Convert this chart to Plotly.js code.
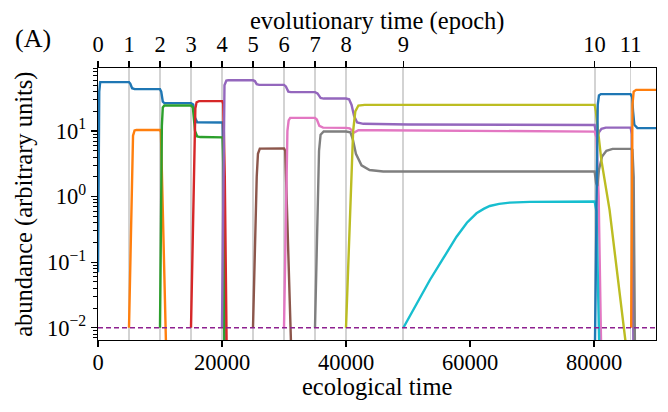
<!DOCTYPE html>
<html>
<head>
<meta charset="utf-8">
<script src="https://cdn.plot.ly/plotly-3.0.1.min.js"></script>
<style>html,body{margin:0;padding:0;background:#fff;}#chart{width:668px;height:412px;}</style>
</head>
<body>
<div id="chart"></div>
<script>
// ---- data ----
const epochTimes = [0, 5000, 10000, 15000, 20000, 25000, 30000, 35000, 40000, 49250, 80100, 85900];
const epochLabels = ['0','1','2','3','4','5','6','7','8','9','10','11'];
const threshold = 0.01;
const yTickVals = [0.01, 0.1, 1, 10];
const yTickText = ['10<sup>\u22122</sup>', '10<sup>\u22121</sup>', '10<sup>0</sup>', '10<sup>1</sup>'];
const xTickVals = [0, 20000, 40000, 60000, 80000];

const sp0_x = [0, 100, 200, 350, 5000, 5200, 5500, 5900, 10000, 10200, 10450, 10700, 15000, 15350, 15650, 16000, 20100, 20250, 20400];
const sp0_y = [0.07, 3, 40, 55.8, 55.8, 53, 45, 43.6, 43.6, 40, 28, 26.7, 26.7, 25.5, 16, 13.6, 13.5, 3, 0.005];
const sp1_x = [5000, 5250, 5500, 5650, 5900, 6200, 10000, 10150, 10980];
const sp1_y = [0.01, 0.15, 3, 8.5, 10.2, 10.4, 10.4, 9.6, 0.005];
const sp2_x = [10000, 10150, 10300, 10450, 10700, 15000, 15300, 15650, 16000, 16500, 20100, 20250, 20380];
const sp2_y = [0.01, 0.3, 12, 23, 24.5, 24.5, 23, 10, 8.3, 8.1, 8.0, 2, 0.005];
const sp3_x = [15000, 15300, 15550, 15700, 15900, 16300, 20050, 20200, 20450, 20750];
const sp3_y = [0.01, 0.2, 5, 22, 27.5, 28.6, 28.6, 26, 2, 0.005];
const sp4_x = [20000, 20150, 20250, 20400, 20700, 21000, 25000, 25300, 25600, 26000, 30000, 30300, 30700, 31100, 35000, 35400, 35900, 36400, 40000, 40500, 40900, 41300, 41800, 42800, 50000, 80100, 80300, 80550, 80800, 81200, 81900, 85900, 86100, 86350];
const sp4_y = [0.01, 0.5, 10, 50, 59, 59.5, 59.5, 58, 52, 50.7, 50.7, 48, 40, 39.3, 39.3, 37.5, 32, 31.3, 31.3, 30.5, 25, 17, 13.5, 12.9, 12.6, 12.4, 9.5, 8.3, 9.6, 10.8, 11.3, 11.3, 9, 0.005];
const sp5_x = [25000, 25300, 25600, 25800, 26100, 30000, 30200, 31150];
const sp5_y = [0.01, 0.15, 2, 4.5, 5.4, 5.45, 5.0, 0.005];
const sp6_x = [30000, 30300, 30550, 30750, 31000, 35000, 35300, 35700, 36300, 40000, 40600, 41300, 42000, 45000, 80100, 80400, 80750, 81150];
const sp6_y = [0.01, 0.5, 10, 14.5, 15.9, 15.9, 15, 12, 11.3, 11.2, 11, 9.5, 10.3, 10.3, 9.8, 8, 1, 0.005];
const sp7_x = [35000, 35300, 35650, 35900, 36400, 40000, 40700, 41100, 41600, 42500, 43800, 46000, 80100, 80350, 80550, 80800, 81300, 82000, 83000, 85900, 86200, 86400, 86600];
const sp7_y = [0.01, 0.2, 5, 8.8, 9.85, 9.85, 9.6, 7.5, 4.5, 3.0, 2.55, 2.42, 2.41, 1.6, 1.45, 2.56, 4.1, 5.0, 5.35, 5.35, 5.2, 2, 0.005];
const sp8_x = [40000, 40750, 41150, 41500, 42000, 43000, 80100, 80300, 81180, 82510, 83850, 84930, 85200];
const sp8_y = [0.01, 0.85, 10, 20, 24.5, 25.1, 25.1, 20, 3.63, 0.627, 0.06, 0.0104, 0.005];
const sp9_x = [49250, 51400, 53530, 55700, 57830, 59500, 61050, 62200, 63190, 64700, 66410, 69630, 80100, 80400, 80650, 80850];
const sp9_y = [0.01, 0.023, 0.0535, 0.115, 0.245, 0.40, 0.557, 0.65, 0.72, 0.775, 0.81, 0.83, 0.84, 0.6, 0.05, 0.005];
const sp10_x = [80150, 80400, 80600, 80800, 81100, 85900, 86150, 86300, 86500, 87000, 90000];
const sp10_y = [0.005, 1, 25, 35, 36.6, 36.6, 33, 20, 12.5, 11.1, 11.1];
const sp11_x = [86000, 86100, 86200, 86400, 86800, 90000];
const sp11_y = [0.01, 1, 25, 40, 42.5, 42.5];

const speciesX = [sp0_x, sp1_x, sp2_x, sp3_x, sp4_x, sp5_x, sp6_x, sp7_x, sp8_x, sp9_x, sp10_x, sp11_x];
const speciesY = [sp0_y, sp1_y, sp2_y, sp3_y, sp4_y, sp5_y, sp6_y, sp7_y, sp8_y, sp9_y, sp10_y, sp11_y];
const colors = ['#1f77b4','#ff7f0e','#2ca02c','#d62728','#9467bd','#8c564b','#e377c2','#7f7f7f','#bcbd22','#17becf'];

// ---- build chart ----
const FONT = '"Liberation Serif", "Times New Roman", serif';
const traces = speciesX.map((xs, i) => ({
  type: 'scatter', mode: 'lines', x: xs, y: speciesY[i],
  line: {color: colors[i % colors.length], width: 2.4},
  hoverinfo: 'skip', showlegend: false, xaxis: 'x', yaxis: 'y'
}));
traces.push({type: 'scatter', mode: 'markers', x: epochTimes, y: epochTimes.map(() => threshold),
  marker: {opacity: 0}, xaxis: 'x2', yaxis: 'y', hoverinfo: 'skip', showlegend: false});

const minorVals = [];
for (let e = -3; e <= 1; e++) for (let d = 2; d <= 9; d++) minorVals.push(d * Math.pow(10, e));

const xRange = [0, 90000];
const layout = {
  width: 668, height: 412,
  margin: {l: 98, r: 12, t: 68, b: 72},
  paper_bgcolor: '#fff', plot_bgcolor: '#fff',
  font: {family: FONT, size: 22, color: '#000'},
  showlegend: false,
  xaxis: {
    range: xRange, tickmode: 'array', tickvals: xTickVals, ticktext: xTickVals.map(String),
    ticks: 'outside', ticklen: 6, tickwidth: 1.3, tickcolor: '#000', ticklabelstandoff: -4,
    showline: true, linecolor: '#000', linewidth: 1.3, showgrid: false, zeroline: false,
    tickfont: {family: FONT, size: 22.5}
  },
  xaxis2: {
    range: xRange, overlaying: 'x', side: 'top', anchor: 'y',
    tickmode: 'array', tickvals: epochTimes, ticktext: epochLabels,
    ticks: 'outside', ticklen: 6, tickwidth: 1.3, tickcolor: '#000',
    showline: true, linecolor: '#000', linewidth: 1.3,
    showgrid: true, gridcolor: '#d3d3d3', gridwidth: 1.8, zeroline: false,
    tickfont: {family: FONT, size: 22.5}
  },
  yaxis: {
    type: 'log', range: [Math.log10(0.0065), Math.log10(91.6)],
    tickmode: 'array', tickvals: yTickVals, ticktext: yTickText,
    ticks: 'outside', ticklen: 6, tickwidth: 1.3, tickcolor: '#000',
    minor: {tickmode: 'array', tickvals: minorVals, ticks: 'outside', ticklen: 3.5, tickwidth: 1, tickcolor: '#000', showgrid: false},
    showline: true, mirror: true, linecolor: '#000', linewidth: 1.3,
    showgrid: false, zeroline: false,
    tickfont: {family: FONT, size: 22.5}
  },
  shapes: [{type: 'line', xref: 'paper', x0: 0, x1: 1, yref: 'y', y0: threshold, y1: threshold,
    line: {color: '#8e2190', width: 1.6, dash: '5px,3px'}, layer: 'above'}],
  annotations: [
    {text: '(A)', xref: 'paper', yref: 'paper', x: -0.152, y: 1.11, xanchor: 'left', yanchor: 'middle', showarrow: false, font: {family: FONT, size: 26}},
    {text: 'evolutionary time (epoch)', xref: 'paper', yref: 'paper', x: 0.5, y: 1.172, xanchor: 'center', yanchor: 'middle', showarrow: false, font: {family: FONT, size: 24.5}},
    {text: 'ecological time', xref: 'paper', yref: 'paper', x: 0.5, y: -0.172, xanchor: 'center', yanchor: 'middle', showarrow: false, font: {family: FONT, size: 24.5}},
    {text: 'abundance (arbitrary units)', xref: 'paper', yref: 'paper', x: -0.133, y: 0.5, xanchor: 'center', yanchor: 'middle', textangle: -90, showarrow: false, font: {family: FONT, size: 24.5}}
  ]
};
Plotly.newPlot('chart', traces, layout, {staticPlot: true, displayModeBar: false});
</script>
</body>
</html>
